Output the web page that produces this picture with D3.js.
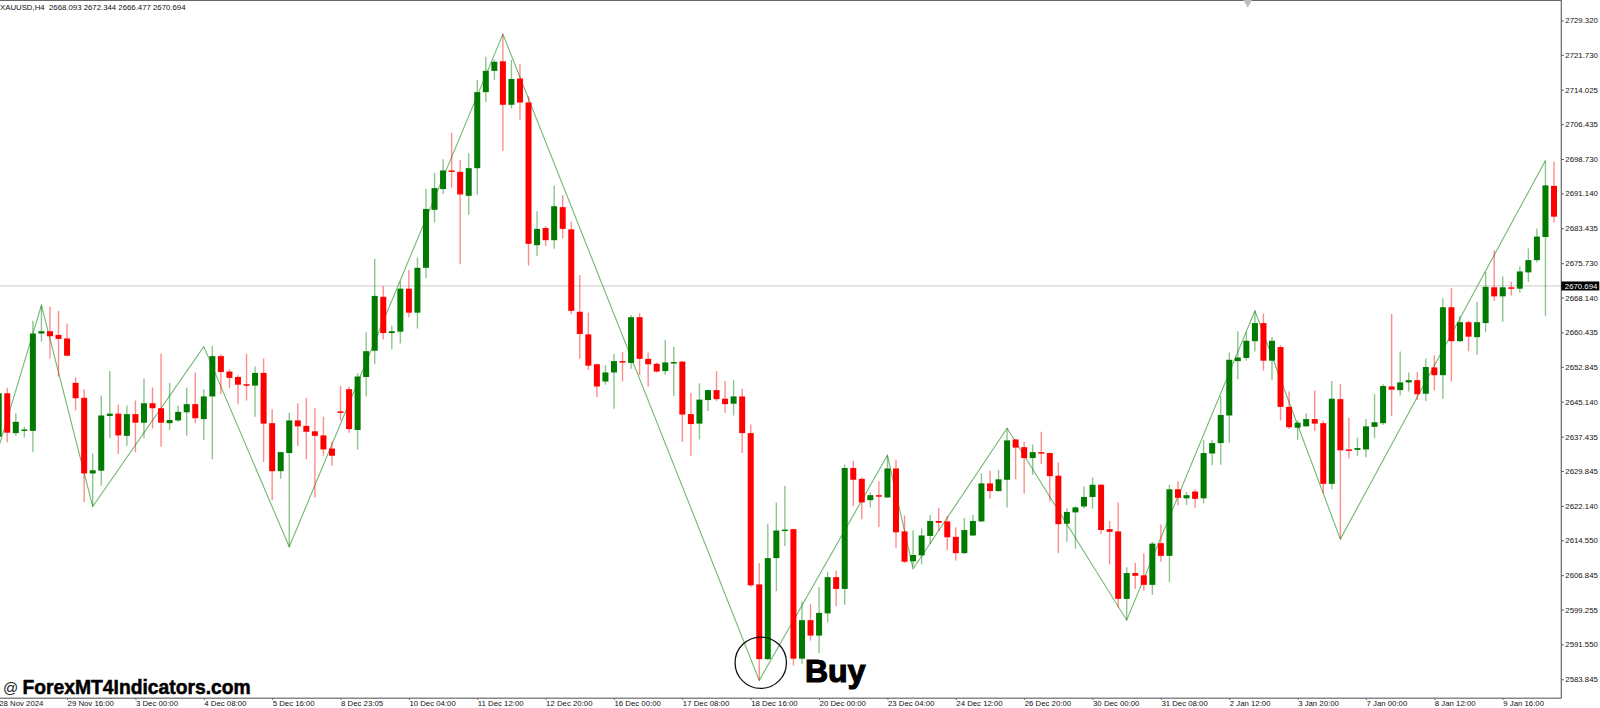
<!DOCTYPE html>
<html>
<head>
<meta charset="utf-8">
<title>XAUUSD,H4</title>
<script src="https://cdn.jsdelivr.net/npm/d3@7"></script>
<style>
  body { margin: 0; background: #fff; }
  svg { display: block; }
  text { font-family: "Liberation Sans", sans-serif; }
</style>
</head>
<body>
<svg></svg>
<script>
const header = "XAUUSD,H4  2668.093 2672.344 2666.477 2670.694";
const lastPrice = 2670.694;

const opens = [
  2637.4,2647.0,2638.2,2638.7,2638.7,2660.2,2660.7,2659.9,2659.1,2649.3,
  2646.0,2629.3,2629.9,2642.0,2642.5,2637.6,2642.4,2640.5,2644.8,2643.7,
  2640.4,2641.0,2642.8,2644.6,2641.3,2646.3,2655.2,2651.8,2650.6,2649.0,
  2648.7,2651.5,2640.4,2629.8,2633.8,2641.0,2639.8,2638.6,2637.7,2634.8,
  2643.0,2647.9,2638.9,2650.6,2656.4,2668.3,2660.3,2660.6,2670.1,2664.8,
  2674.7,2687.5,2692.1,2696.2,2695.9,2690.6,2696.7,2713.5,2718.2,2720.3,
  2710.7,2716.5,2711.2,2679.7,2683.5,2680.8,2688.1,2683.2,2665.0,2660.0,
  2653.4,2649.6,2651.6,2654.1,2653.7,2663.8,2654.6,2653.5,2651.9,2653.7,
  2654.0,2642.4,2640.3,2645.5,2647.7,2645.8,2644.7,2646.3,2638.2,2604.8,
  2588.3,2610.6,2616.7,2617.0,2588.4,2596.9,2593.5,2598.4,2606.4,2603.8,
  2630.5,2628.1,2623.4,2624.5,2624.0,2630.4,2616.5,2609.9,2611.2,2615.5,
  2618.8,2618.7,2615.3,2611.7,2615.6,2618.7,2627.1,2625.4,2627.9,2636.8,
  2635.1,2632.7,2634.0,2633.8,2628.8,2618.2,2620.7,2622.0,2624.1,2626.8,
  2617.0,2616.5,2601.6,2607.3,2606.8,2604.7,2613.9,2611.1,2625.8,2623.8,
  2625.3,2623.8,2633.7,2636.0,2642.1,2654.1,2654.8,2658.5,2662.5,2654.2,
  2657.2,2644.0,2639.4,2639.7,2641.3,2640.4,2627.0,2645.7,2634.6,2634.5,
  2634.6,2639.6,2640.4,2648.5,2647.7,2649.4,2649.9,2646.9,2652.7,2651.0,
  2666.0,2658.5,2662.7,2659.4,2662.5,2670.4,2668.4,2670.4,2670.1,2673.7,
  2676.4,2681.5,2692.8
];
const highs = [
  2648.1,2648.2,2642.6,2639.6,2663.0,2666.4,2666.1,2665.2,2662.4,2650.5,
  2647.9,2633.7,2646.5,2651.9,2644.5,2644.3,2645.4,2650.2,2648.3,2655.8,
  2649.3,2644.3,2648.3,2651.6,2647.9,2657.4,2655.7,2652.3,2651.0,2655.7,
  2652.9,2654.7,2643.5,2634.1,2642.7,2644.8,2646.0,2643.7,2641.8,2636.3,
  2648.6,2648.5,2651.4,2660.5,2676.7,2670.7,2661.9,2671.8,2674.2,2677.0,
  2692.1,2695.7,2698.7,2704.5,2698.5,2700.0,2716.2,2721.3,2720.7,2726.3,
  2720.6,2719.7,2712.6,2687.2,2683.9,2692.9,2690.8,2684.9,2673.1,2664.8,
  2653.6,2653.2,2655.7,2656.1,2664.3,2664.7,2656.0,2653.8,2658.8,2657.3,
  2654.1,2647.1,2649.2,2647.9,2651.9,2649.7,2649.9,2648.0,2640.1,2609.5,
  2618.2,2622.9,2626.6,2617.1,2601.0,2600.5,2604.2,2607.6,2607.8,2631.3,
  2632.1,2628.4,2625.1,2627.6,2633.3,2632.3,2620.0,2616.7,2617.2,2620.1,
  2621.7,2619.9,2617.4,2619.5,2620.2,2629.3,2629.9,2630.1,2639.3,2636.9,
  2636.3,2635.7,2638.5,2633.9,2631.7,2621.6,2622.1,2626.4,2628.4,2626.9,
  2618.8,2622.9,2608.6,2609.6,2611.7,2614.2,2618.0,2626.8,2627.6,2625.2,
  2625.8,2636.7,2636.7,2646.4,2656.0,2660.7,2660.5,2665.2,2664.6,2659.4,
  2657.6,2647.4,2641.0,2642.6,2647.6,2641.0,2649.7,2649.0,2641.6,2637.2,
  2641.3,2646.8,2649.0,2664.5,2656.2,2651.6,2651.7,2654.7,2655.4,2668.0,
  2670.3,2664.1,2663.0,2667.2,2673.8,2678.6,2672.8,2671.6,2675.0,2679.0,
  2683.4,2698.4,2698.2
];
const lows = [
  2637.1,2636.2,2637.6,2637.2,2634.0,2658.4,2654.6,2650.7,2655.2,2643.2,
  2623.0,2622.0,2626.6,2637.1,2633.6,2635.4,2634.0,2637.1,2639.2,2635.2,
  2638.9,2640.7,2637.7,2640.4,2636.7,2632.4,2646.8,2648.1,2644.6,2645.4,
  2641.8,2631.8,2623.4,2628.1,2613.1,2635.4,2632.4,2624.0,2633.2,2631.0,
  2641.0,2638.3,2634.6,2646.3,2653.4,2658.9,2656.7,2658.0,2663.8,2661.3,
  2672.4,2684.7,2691.0,2692.4,2675.5,2686.4,2690.9,2711.3,2716.2,2700.5,
  2709.9,2707.4,2675.2,2677.3,2679.5,2678.9,2681.2,2664.5,2654.6,2652.1,
  2646.1,2648.9,2643.6,2649.6,2652.4,2651.0,2648.5,2651.6,2651.1,2646.4,
  2636.3,2633.2,2636.8,2643.1,2645.3,2642.7,2642.1,2633.8,2604.2,2583.6,
  2588.1,2603.3,2613.3,2586.9,2587.2,2592.4,2589.6,2596.4,2600.0,2600.3,
  2622.1,2619.2,2621.8,2617.5,2623.9,2612.9,2609.5,2608.7,2609.2,2613.7,
  2616.6,2612.4,2610.1,2611.5,2615.5,2618.6,2623.7,2625.3,2621.8,2628.0,
  2624.8,2629.0,2631.4,2623.1,2611.7,2614.2,2612.7,2621.6,2621.5,2615.9,
  2609.2,2599.7,2596.9,2603.8,2603.4,2602.5,2609.8,2605.3,2622.3,2622.3,
  2621.7,2622.7,2631.1,2631.2,2636.1,2650.1,2654.2,2656.2,2652.0,2649.9,
  2641.0,2639.1,2636.7,2639.6,2638.7,2624.9,2625.8,2614.8,2632.6,2633.2,
  2632.9,2637.1,2640.0,2642.0,2646.5,2647.4,2645.5,2645.3,2647.6,2645.8,
  2649.6,2658.3,2656.3,2655.5,2660.5,2667.4,2662.8,2668.6,2669.2,2671.6,
  2675.9,2664.1,2684.7
];
const closes = [
  2647.0,2638.3,2640.7,2639.0,2660.2,2660.7,2659.6,2659.0,2655.3,2645.9,
  2629.3,2630.0,2642.1,2642.5,2637.7,2642.4,2640.5,2644.8,2643.7,2640.5,
  2641.1,2642.9,2644.6,2641.5,2646.3,2655.2,2651.7,2650.4,2648.9,2648.7,
  2651.5,2640.3,2629.8,2634.0,2641.0,2639.7,2638.5,2637.6,2634.6,2633.2,
  2642.7,2639.1,2650.7,2656.3,2668.5,2660.3,2660.7,2670.1,2664.8,2674.7,
  2687.7,2692.3,2696.2,2695.9,2690.9,2696.7,2713.5,2718.2,2720.2,2710.7,
  2716.4,2711.2,2680.0,2683.3,2680.8,2688.3,2683.3,2665.2,2660.1,2653.1,
  2648.5,2651.6,2654.1,2653.8,2663.8,2654.6,2653.4,2651.8,2653.8,2653.9,
  2642.3,2640.2,2645.6,2647.7,2645.7,2644.6,2646.3,2638.2,2604.6,2588.3,
  2610.6,2616.7,2616.9,2588.4,2596.9,2593.5,2598.5,2606.4,2603.8,2630.5,
  2627.9,2622.9,2624.5,2624.2,2630.4,2616.3,2609.8,2611.3,2615.6,2618.8,
  2618.4,2615.2,2611.7,2616.8,2618.8,2627.1,2625.4,2628.0,2636.6,2635.0,
  2632.7,2634.0,2633.7,2628.7,2618.1,2620.8,2621.8,2624.1,2626.8,2616.8,
  2616.4,2601.6,2607.3,2606.7,2604.7,2613.8,2611.1,2625.8,2623.9,2624.5,
  2623.7,2633.8,2636.0,2642.2,2654.4,2654.9,2658.6,2662.5,2654.2,2658.6,
  2644.0,2639.5,2640.5,2641.3,2640.3,2627.0,2645.8,2634.4,2634.3,2634.9,
  2639.7,2640.6,2648.6,2647.8,2649.4,2649.9,2646.8,2652.8,2651.0,2666.0,
  2658.5,2662.7,2659.5,2662.7,2670.5,2668.4,2670.4,2670.1,2673.9,2676.4,
  2681.6,2692.9,2686.0
];

// zigzag turning points, bar number and price
const zigzagBars = [0, 5, 11, 24, 34, 59, 89, 104, 107, 118, 132, 147, 157, 181];
const zigzagPrices = [2635.1, 2666.4, 2622.0, 2657.3, 2613.1, 2726.3, 2583.6, 2633.3, 2608.2, 2639.3, 2596.9, 2665.2, 2614.8, 2698.4];

const priceTicks = [2729.320, 2721.730, 2714.025, 2706.435, 2698.730, 2691.140, 2683.435, 2675.730, 2668.140, 2660.435,
                    2652.845, 2645.140, 2637.435, 2629.845, 2622.140, 2614.550, 2606.845, 2599.255, 2591.550, 2583.845];

const dateBars = [0, 8, 16, 24, 32, 40, 48, 56, 64, 72, 80, 88, 96, 104, 112, 120, 128, 136, 144, 152, 160, 168, 176];
const dateLabels = ["28 Nov 2024", "29 Nov 16:00", "3 Dec 00:00", "4 Dec 08:00", "5 Dec 16:00", "8 Dec 23:05",
                    "10 Dec 04:00", "11 Dec 12:00", "12 Dec 20:00", "16 Dec 00:00", "17 Dec 08:00", "18 Dec 16:00",
                    "20 Dec 00:00", "23 Dec 04:00", "24 Dec 12:00", "26 Dec 20:00", "30 Dec 00:00", "31 Dec 08:00",
                    "2 Jan 12:00", "3 Jan 20:00", "7 Jan 00:00", "8 Jan 12:00", "9 Jan 16:00"];

const buyBar = 89; // bar the circle and the Buy label sit on
const buyPrice = 2587.5;

let w = 1600;
let h = 708;
let axisX = 1561.3;
let axisY = 698.3;
let labelSize = 7.8;

let svg = d3.select('svg').attr('width', w).attr('height', h);

let xSc = d3.scaleLinear().domain([0, 182]).range([-1.3, 1554]);
let ySc = d3.scaleLinear().domain([2698.73, 2645.14]).range([159, 401.7]);

// current price line sits under everything
svg.append('line')
   .attr('x1', 0).attr('x2', axisX)
   .attr('y1', ySc(lastPrice)).attr('y2', ySc(lastPrice))
   .attr('stroke', '#d6d6d6').attr('stroke-width', 1.2);

let zigzag = d3.line()
               .x((d, i) => xSc(d))
               .y((d, i) => ySc(zigzagPrices[i]));

svg.append('path')
   .attr('d', zigzag(zigzagBars))
   .attr('fill', 'none')
   .attr('stroke', '#72b872')
   .attr('stroke-width', 1.1);

let bars = d3.range(opens.length);
let isUp = i => closes[i] >= opens[i];

svg.append('g').selectAll('line')
   .data(bars)
   .enter()
   .append('line')
   .attr('x1', i => xSc(i))
   .attr('x2', i => xSc(i))
   .attr('y1', i => ySc(highs[i]))
   .attr('y2', i => ySc(lows[i]))
   .attr('stroke', i => isUp(i) ? '#008000' : '#ff0000')
   .attr('stroke-opacity', 0.45)
   .attr('stroke-width', 1.4);

svg.append('g').selectAll('rect')
   .data(bars)
   .enter()
   .append('rect')
   .attr('x', i => xSc(i) - 3)
   .attr('width', 6)
   .attr('y', i => ySc(Math.max(opens[i], closes[i])))
   .attr('height', i => Math.max(Math.abs(ySc(opens[i]) - ySc(closes[i])), 1.5))
   .attr('fill', i => isUp(i) ? '#007a00' : '#ff0000');

// frame
svg.append('line').attr('x1', 0).attr('x2', axisX).attr('y1', 0.5).attr('y2', 0.5).attr('stroke', '#666').attr('stroke-width', 1.2);
svg.append('line').attr('x1', axisX).attr('x2', axisX).attr('y1', 0).attr('y2', axisY).attr('stroke', '#666').attr('stroke-width', 1.2);
svg.append('line').attr('x1', 0).attr('x2', axisX).attr('y1', axisY).attr('y2', axisY).attr('stroke', '#888').attr('stroke-width', 1.6);

let yAxis = d3.axisRight(ySc)
              .tickValues(priceTicks)
              .tickFormat(d3.format('.3f'))
              .tickSize(2.5)
              .tickPadding(1.5);
svg.append('g')
   .attr('transform', 'translate(' + axisX + ',0)')
   .call(yAxis)
   .call(g => g.select('.domain').remove())
   .call(g => g.selectAll('text').attr('font-size', labelSize).attr('fill', '#111').style('font-family', '"Liberation Sans", sans-serif'))
   .call(g => g.selectAll('line').attr('stroke', '#555'));

let xAxis = d3.axisBottom(xSc)
              .tickValues(dateBars)
              .tickFormat((d, i) => dateLabels[i])
              .tickSize(1.5)
              .tickPadding(0.5);
svg.append('g')
   .attr('transform', 'translate(0,' + axisY + ')')
   .call(xAxis)
   .call(g => g.select('.domain').remove())
   .call(g => g.selectAll('text').attr('text-anchor', 'start').attr('font-size', labelSize).attr('fill', '#111').style('font-family', '"Liberation Sans", sans-serif'))
   .call(g => g.selectAll('line').attr('stroke', '#555'));

// last price box
svg.append('rect')
   .attr('x', axisX).attr('y', ySc(lastPrice) - 4.5)
   .attr('width', 38).attr('height', 9)
   .attr('fill', '#000');
svg.append('text')
   .attr('x', axisX + 3.5).attr('y', ySc(lastPrice) + 3)
   .attr('font-size', labelSize).attr('fill', '#fff')
   .text(d3.format('.3f')(lastPrice));

svg.append('text')
   .attr('x', 0).attr('y', 9.5)
   .attr('font-size', labelSize).attr('fill', '#111')
   .style('white-space', 'pre')
   .text(header);

// grey marker on the top edge
svg.append('path')
   .attr('d', d3.symbol(d3.symbolTriangle, 34))
   .attr('transform', 'translate(1247.7,2.5) rotate(180)')
   .attr('fill', '#bdbdbd');

svg.append('circle')
   .attr('cx', xSc(buyBar) + 1.5).attr('cy', ySc(buyPrice))
   .attr('r', 25.7)
   .attr('fill', 'none')
   .attr('stroke', '#111')
   .attr('stroke-width', 1.3);

svg.append('text')
   .attr('x', 805).attr('y', 681.5)
   .attr('font-size', 32).attr('font-weight', 'bold')
   .attr('stroke', '#000').attr('stroke-width', 1.2)
   .text('Buy');

svg.append('text')
   .attr('x', 3).attr('y', 693)
   .attr('font-size', 15).attr('fill', '#222')
   .text('@');
svg.append('text')
   .attr('x', 22.5).attr('y', 693.5)
   .attr('font-size', 19.3).attr('font-weight', 'bold')
   .attr('stroke', '#000').attr('stroke-width', 0.5)
   .text('ForexMT4Indicators.com');
</script>
</body>
</html>
